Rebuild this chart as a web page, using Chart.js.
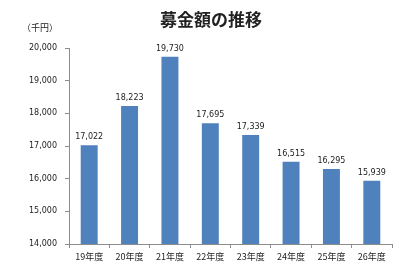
<!DOCTYPE html>
<html>
<head>
<meta charset="utf-8">
<script src="https://cdn.jsdelivr.net/npm/chart.js@4"></script>
<style>
  html, body { margin: 0; padding: 0; background: #fff; }
  #wrap { width: 400px; height: 275px; position: relative; }
</style>
</head>
<body>
<div id="wrap"><canvas id="chart" width="400" height="275"></canvas></div>
<script>
const categories = ['19年度', '20年度', '21年度', '22年度', '23年度', '24年度', '25年度', '26年度'];
const amounts = [17022, 18223, 19730, 17695, 17339, 16515, 16295, 15939];
const yMin = 14000;
const yMax = 20000;
const yStep = 1000;

const FONT = '"Noto Sans CJK JP", "Noto Sans", sans-serif';
const NUM_FONT = '"DejaVu Sans", "Noto Sans CJK JP", sans-serif';
const AXIS_COLOR = '#8c8c8c';
const TEXT_COLOR = '#222';

// title, unit and value labels drawn by hand
const labelsPlugin = {
    id: 'labels',
    afterDatasetsDraw(chart) {
        const ctx = chart.ctx;
        ctx.save();
        ctx.fillStyle = TEXT_COLOR;
        ctx.textAlign = 'center';
        ctx.textBaseline = 'alphabetic';
        ctx.font = '8px ' + NUM_FONT;
        const meta = chart.getDatasetMeta(0);
        meta.data.forEach((bar, i) => {
            ctx.fillText(amounts[i].toLocaleString('en-US'), bar.x, bar.y - 6);
        });

        ctx.font = 'bold 17px ' + FONT;
        ctx.fillText('募金額の推移', 211, 26);

        ctx.font = '9px ' + FONT;
        ctx.fillText('（千円）', 40, 31);
        ctx.restore();
    }
};

new Chart(document.getElementById('chart'), {
    type: 'bar',
    data: {
        labels: categories,
        datasets: [{
            data: amounts,
            backgroundColor: '#4f81bd',
            borderWidth: 0,
            categoryPercentage: 1.0,
            barPercentage: 0.42
        }]
    },
    options: {
        responsive: false,
        animation: false,
        layout: { padding: { left: 0, right: 8, top: 48, bottom: 0 } },
        plugins: {
            legend: { display: false },
            tooltip: { enabled: false },
            title: { display: false }
        },
        scales: {
            x: {
                grid: {
                    display: true,
                    drawOnChartArea: false,
                    drawTicks: true,
                    tickLength: 4,
                    color: AXIS_COLOR,
                    offset: true
                },
                border: { color: AXIS_COLOR, width: 1 },
                ticks: {
                    color: TEXT_COLOR,
                    font: { size: 9, family: FONT },
                    padding: 3,
                    maxRotation: 0
                },
                afterFit(scale) { scale.height = 275 - 244; }
            },
            y: {
                min: yMin,
                max: yMax,
                grid: {
                    display: true,
                    drawOnChartArea: false,
                    drawTicks: true,
                    tickLength: 4,
                    color: AXIS_COLOR
                },
                border: { color: AXIS_COLOR, width: 1 },
                ticks: {
                    stepSize: yStep,
                    color: TEXT_COLOR,
                    font: { size: 8, family: NUM_FONT },
                    padding: 8,
                    callback: v => v.toLocaleString('en-US')
                },
                afterFit(scale) { scale.width = 69; }
            }
        }
    },
    plugins: [labelsPlugin]
});
</script>
</body>
</html>
